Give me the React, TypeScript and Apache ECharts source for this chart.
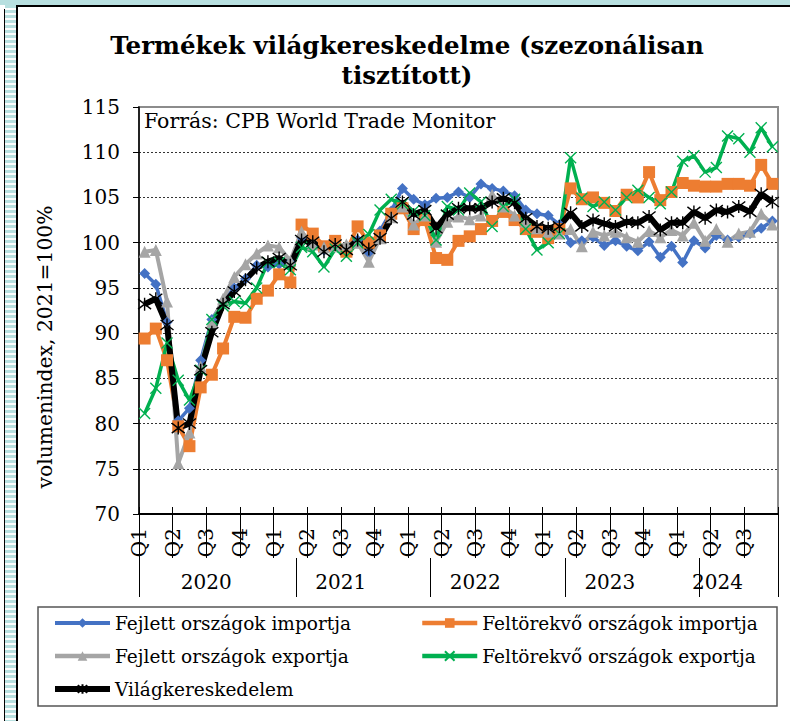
import React, { useEffect, useRef } from 'react';
import * as echarts from 'echarts';

const months = [
  '2020-01','2020-02','2020-03','2020-04','2020-05','2020-06','2020-07','2020-08','2020-09','2020-10','2020-11','2020-12',
  '2021-01','2021-02','2021-03','2021-04','2021-05','2021-06','2021-07','2021-08','2021-09','2021-10','2021-11','2021-12',
  '2022-01','2022-02','2022-03','2022-04','2022-05','2022-06','2022-07','2022-08','2022-09','2022-10','2022-11','2022-12',
  '2023-01','2023-02','2023-03','2023-04','2023-05','2023-06','2023-07','2023-08','2023-09','2023-10','2023-11','2023-12',
  '2024-01','2024-02','2024-03','2024-04','2024-05','2024-06','2024-07','2024-08','2024-09'
];

const quarterLabels = ['Q1', 'Q2', 'Q3', 'Q4'];
const yearLabels = ['2020', '2021', '2022', '2023', '2024'];
const yearLabelAt = [6, 18, 30, 42, 51.6];
const yearSeparators = [0, 14, 26, 38, 50, 57];
const yTicks = { min: 70, max: 115, step: 5 };

const advImports = [
  96.6, 95.4, 91.2, 80.3, 81.7, 87.0, 91.5, 93.5, 95.0, 96.0, 97.5, 97.3,
  97.6, 97.8, 100.6, 99.6, 99.2, 99.9, 99.0, 100.3, 98.9, 101.3, 103.5, 106.0,
  104.8, 104.2, 104.9, 105.0, 105.6, 105.0, 106.5, 106.0, 105.7, 105.2, 103.6, 103.2,
  103.0, 102.0, 100.0, 100.2, 100.6, 99.7, 100.2, 99.6, 99.1, 100.1, 98.4, 99.6,
  97.8, 100.2, 99.4, 100.8, 100.3, 100.6, 101.0, 101.6, 102.4
];
const emgImports = [
  89.4, 90.5, 87.0, 79.7, 77.5, 84.0, 85.4, 88.3, 91.8, 91.7, 93.8, 94.7,
  96.5, 95.6, 102.0, 101.0, 99.6, 100.2, 99.0, 101.8, 100.0, 100.8, 103.2, 103.8,
  101.5, 102.5, 98.3, 98.1, 100.2, 100.7, 101.5, 102.4, 103.4, 102.5, 101.5, 101.2,
  100.5, 101.5, 106.0, 104.8, 105.0, 104.4, 103.5, 105.3, 105.0, 107.8, 104.7, 105.6,
  106.6, 106.3, 106.2, 106.2, 106.5, 106.5, 106.3, 108.6, 106.5
];
const advExports = [
  99.0, 99.2, 93.5, 75.6, 79.0, 86.3, 91.2, 93.8, 96.2, 97.6, 98.8, 99.7,
  99.5, 98.0, 101.2, 99.8, 99.5, 99.6, 99.8, 100.0, 97.9, 100.5, 102.8, 104.0,
  102.0, 103.0, 100.1, 102.3, 102.9, 102.6, 103.0, 105.3, 104.0, 103.0, 102.3, 101.6,
  101.2, 101.0, 101.5, 99.6, 101.2, 100.8, 101.2, 100.6, 100.1, 101.3, 100.6, 101.4,
  100.8, 102.2, 100.2, 101.5, 100.1, 101.0, 101.2, 103.2, 102.0
];
const emgExports = [
  81.1, 83.9, 88.9, 84.8, 82.6, 85.9, 91.5, 93.0, 93.5, 93.3, 95.0, 97.8,
  97.8, 97.0, 99.5, 99.0, 97.3, 99.3, 98.5, 100.0, 100.9, 103.6, 104.8, 104.3,
  103.5, 103.0, 100.3, 104.0, 103.6, 105.5, 104.5, 101.8, 104.0, 104.8, 101.5, 99.2,
  100.0, 101.0, 109.4, 104.9, 104.0, 104.5, 103.6, 105.0, 105.8, 105.0, 104.3, 105.6,
  109.0, 109.6, 107.8, 108.3, 111.8, 111.5, 110.0, 112.7, 110.6
];
const worldTrade = [
  93.2, 93.8, 90.9, 79.5, 80.0, 85.9, 90.1, 93.2, 94.6, 95.9, 97.2, 97.9,
  98.3, 97.5, 100.3, 100.1, 99.0, 99.8, 99.2, 100.3, 99.3, 100.5, 102.7, 104.5,
  103.1, 103.6, 101.6, 103.1, 103.8, 103.8, 103.8, 104.5, 104.9, 104.4, 102.7, 101.8,
  101.6, 101.8, 103.3, 101.8, 102.5, 102.1, 101.8, 102.3, 102.2, 102.9, 101.4, 102.2,
  102.2, 103.4, 102.7, 103.6, 103.4, 104.0, 103.4, 105.4, 104.5
];

const FONT = "'DejaVu Serif', serif";
const xPath = 'path://M0,0L10,10M10,0L0,10';
const starPath = 'path://M0,0L10,10M10,0L0,10M5,-1.5L5,11.5';

const seriesDefs = [
  { name: 'Fejlett országok importja', data: advImports, color: '#4472C4', symbol: 'diamond', size: 11, width: 3.5, stroke: false, legendWidth: 4, col: 0 },
  { name: 'Feltörekvő országok importja', data: emgImports, color: '#ED7D31', symbol: 'rect', size: 12, width: 4, stroke: false, legendWidth: 4.5, col: 1 },
  { name: 'Fejlett országok exportja', data: advExports, color: '#A5A5A5', symbol: 'triangle', size: 12, width: 4, stroke: false, legendWidth: 4.5, col: 0 },
  { name: 'Feltörekvő országok exportja', data: emgExports, color: '#00B050', symbol: xPath, size: 11, width: 3.5, stroke: true, legendWidth: 4.5, col: 1 },
  { name: 'Világkereskedelem', data: worldTrade, color: '#000000', symbol: starPath, size: 13, width: 6, stroke: true, legendWidth: 6, col: 0 },
];

export default function App() {
  const ref = useRef<HTMLDivElement>(null);
  useEffect(() => {
    const chart = echarts.init(ref.current!, null, { renderer: 'svg' });
    const n = months.length;
    const legendBase = {
      top: 608, padding: 0, orient: 'vertical',
      itemWidth: 55, itemHeight: 12, itemGap: 3,
      textStyle: { fontFamily: FONT, fontSize: 18.5, color: '#000', lineHeight: 30 },
    };
    const legendCol = (col: number, left: number) => ({
      ...legendBase,
      left,
      data: seriesDefs.filter((s) => s.col === col).map((s) => ({ name: s.name, lineStyle: { width: s.legendWidth, color: s.color } })),
    });
    chart.setOption({
      animation: false,
      backgroundColor: 'transparent',
      title: {
        text: 'Termékek világkereskedelme (szezonálisan\ntisztított)',
        left: 407,
        top: 30,
        padding: 0,
        textAlign: 'center',
        textStyle: { fontFamily: FONT, fontSize: 24.5, fontWeight: 'bold', color: '#000', lineHeight: 30 },
      },
      grid: {
        left: 139, top: 107, right: 12, bottom: 207,
        show: true, borderColor: '#8c8c8c', borderWidth: 2, backgroundColor: 'transparent',
      },
      legend: [legendCol(0, 52), legendCol(1, 420)],
      xAxis: [
        {
          type: 'category', data: months, boundaryGap: true, position: 'bottom',
          axisLine: { show: true, lineStyle: { color: '#000', width: 2 } },
          axisTick: { show: true, inside: true, interval: 2, length: 7, lineStyle: { color: '#000', width: 1 } },
          axisLabel: { show: false }, splitLine: { show: false },
        },
        {
          type: 'value', min: 0, max: n, interval: 3, position: 'bottom',
          axisLine: { show: false },
          axisTick: { show: true, length: 44, lineStyle: { color: '#000', width: 1 } },
          axisLabel: {
            rotate: 90, margin: 14, fontFamily: FONT, fontSize: 20, color: '#000',
            formatter: (v: number) => (v >= n ? '' : quarterLabels[Math.round(v / 3) % 4]),
          },
          splitLine: { show: false },
        },
        {
          type: 'value', min: 0, max: n, position: 'bottom', offset: 44,
          axisLine: { show: false },
          axisTick: { show: true, customValues: yearSeparators, length: 39, lineStyle: { color: '#000', width: 1 } },
          axisLabel: {
            customValues: yearLabelAt, margin: 14, fontFamily: FONT, fontSize: 20, color: '#000',
            formatter: (v: number) => {
              let best = 0;
              yearLabelAt.forEach((p, i) => { if (Math.abs(p - v) < Math.abs(yearLabelAt[best] - v)) best = i; });
              return yearLabels[best];
            },
          },
          splitLine: { show: false },
        },
      ],
      yAxis: {
        type: 'value', min: yTicks.min, max: yTicks.max, interval: yTicks.step,
        axisLine: { show: true, lineStyle: { color: '#000', width: 1.5 } },
        axisTick: { show: true, length: 6, lineStyle: { color: '#000', width: 1 } },
        axisLabel: { fontFamily: FONT, fontSize: 20, color: '#000', margin: 19 },
        splitLine: { show: true, showMaxLine: false, lineStyle: { color: '#333', width: 1, type: [2, 2] } },
      },
      graphic: [
        {
          type: 'text', left: 144, top: 110, z: 10,
          style: { text: 'Forrás: CPB World Trade Monitor', fontFamily: FONT, fontSize: 20.5, fill: '#000' },
        },
        {
          type: 'text', x: 45, y: 347, rotation: Math.PI / 2,
          style: { text: 'volumenindex, 2021=100%', fontFamily: FONT, fontSize: 20.3, fill: '#000', align: 'center', verticalAlign: 'middle' },
        },
        {
          type: 'rect', shape: { x: 38, y: 607, width: 739, height: 99 },
          style: { fill: 'none', stroke: '#555', lineWidth: 1.5 },
        },
      ],
      series: seriesDefs.map((s) => ({
        name: s.name,
        type: 'line',
        data: s.data,
        xAxisIndex: 0,
        yAxisIndex: 0,
        symbol: s.symbol,
        symbolSize: s.size,
        showAllSymbol: true,
        lineStyle: { color: s.color, width: s.width },
        itemStyle: s.stroke
          ? { color: s.color, borderColor: s.color, borderWidth: 1.4 }
          : { color: s.color, borderWidth: 0 },
        emphasis: { disabled: true },
      })),
    });
    return () => chart.dispose();
  }, []);
  return (
    <div style={{ position: 'absolute', left: 0, top: 0, width: 790, height: 721, background: '#fff', overflow: 'hidden' }}>
      <div style={{ position: 'absolute', left: 0, top: 0, width: 790, height: 5, background: '#b8e0e0' }} />
      <div style={{ position: 'absolute', left: 5, top: 5, width: 11, height: 716, background: 'repeating-linear-gradient(to bottom, #b8e0e0 0px, #b8e0e0 3px, #ffffff 3px, #ffffff 5px)' }} />
      <div style={{ position: 'absolute', left: 4, top: 9, width: 1, height: 712, background: '#000' }} />
      <div style={{ position: 'absolute', left: 16, top: 5, width: 2, height: 716, background: '#000' }} />
      <div style={{ position: 'absolute', left: 16, top: 5, width: 774, height: 2, background: '#000' }} />
      <div ref={ref} style={{ position: 'absolute', left: 0, top: 0, width: 790, height: 721 }} />
    </div>
  );
}
